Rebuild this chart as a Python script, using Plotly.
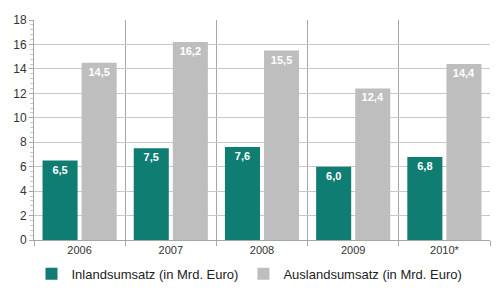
import plotly.graph_objects as go

years = ["2006", "2007", "2008", "2009", "2010*"]
inland = [6.5, 7.5, 7.6, 6.0, 6.8]
ausland = [14.5, 16.2, 15.5, 12.4, 14.4]
inland_labels = ["6,5", "7,5", "7,6", "6,0", "6,8"]
ausland_labels = ["14,5", "16,2", "15,5", "12,4", "14,4"]
y_ticks = [0, 2, 4, 6, 8, 10, 12, 14, 16, 18]

teal = "#0F7D72"
grey = "#BEBEBE"
label_font = dict(family="Liberation Sans, Arial, sans-serif", size=11, color="white")

fig = go.Figure()
fig.add_trace(go.Bar(
    x=years, y=inland, name="Inlandsumsatz (in Mrd. Euro)",
    marker=dict(color=teal, line=dict(width=0)),
    text=inland_labels, textposition="inside", insidetextanchor="end",
    textangle=0, textfont=label_font,
    texttemplate="<b>%{text}</b>",
))
fig.add_trace(go.Bar(
    x=years, y=ausland, name="Auslandsumsatz (in Mrd. Euro)",
    marker=dict(color=grey, line=dict(width=0)),
    text=ausland_labels, textposition="inside", insidetextanchor="end",
    textangle=0, textfont=label_font,
    texttemplate="<b>%{text}</b>",
))

fig.update_layout(
    width=499, height=296,
    margin=dict(l=34, r=9, t=20, b=56, autoexpand=False),
    paper_bgcolor="white", plot_bgcolor="white",
    barmode="group", bargap=0.143, bargroupgap=0.103,
    font=dict(family="Liberation Sans, Arial, sans-serif", size=11, color="#333333"),
    showlegend=True,
    legend=dict(orientation="h", x=0.5, xref="container", xanchor="center",
                y=0.075, yref="container", yanchor="middle",
                font=dict(size=13, color="#222222"), itemwidth=30,
                entrywidth=0, traceorder="normal", bgcolor="rgba(0,0,0,0)"),
    uniformtext=dict(minsize=8, mode="show"),
)
fig.update_xaxes(
    type="category", tickson="boundaries",
    showgrid=True, gridcolor="#A6A6A6", gridwidth=1,
    showline=True, linecolor="#A6A6A6", linewidth=1,
    ticks="outside", ticklen=5, tickcolor="#A6A6A6",
    tickfont=dict(size=11, color="#333333"),
    mirror=False,
)
fig.update_yaxes(
    range=[0, 18], tickvals=y_ticks, ticktext=[str(v) for v in y_ticks],
    showgrid=True, gridcolor="#C8C8C8", gridwidth=1,
    showline=True, linecolor="#A6A6A6", linewidth=1,
    ticks="outside", ticklen=4, tickcolor="#A6A6A6",
    minor=dict(dtick=0.4, ticks="outside", ticklen=3, tickcolor="#C8C8C8", showgrid=False),
    tickfont=dict(size=12, color="#333333"),
    zeroline=False,
)

fig.write_html("out.html")
